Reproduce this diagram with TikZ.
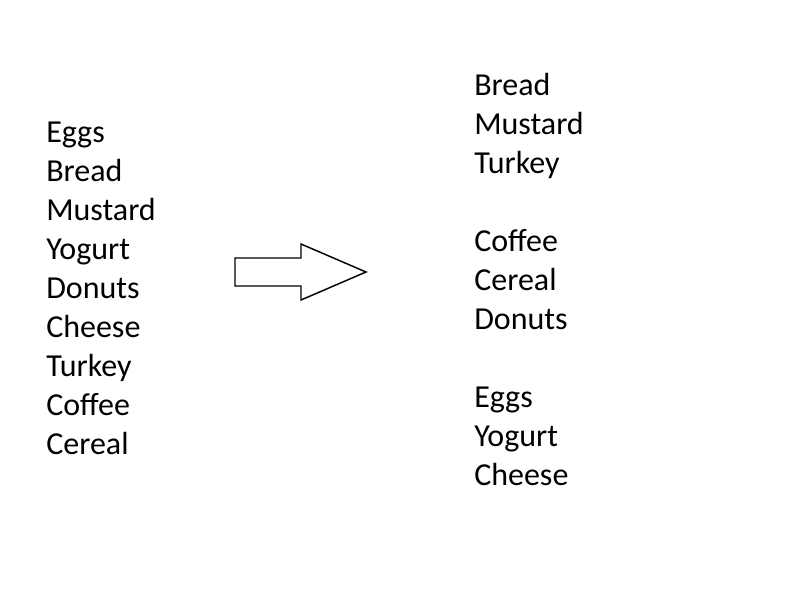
\documentclass[tikz,border=0pt]{standalone}
\usepackage{fontspec}
\setmainfont{Carlito}
\begin{document}
\begin{tikzpicture}[x=0.75pt,y=-0.75pt,
  item/.style={anchor=base west,inner sep=0pt,font=\fontsize{24}{29.25}\selectfont},
  bigarrow/.style={draw=black,line width=1.1pt,fill=white,line join=miter}]
\useasboundingbox[fill=white] (0,0) rectangle (800,600);
\foreach \t [count=\i] in {Eggs,Bread,Mustard,Yogurt,Donuts,Cheese,Turkey,Coffee,Cereal}
  \node[item] (l\i) at (46,{142+39*(\i-1)}) {\t};
\foreach \t/\k in {Bread/0,Mustard/1,Turkey/2,Coffee/4,Cereal/5,Donuts/6,Eggs/8,Yogurt/9,Cheese/10}
  \node[item] (r\k) at (474,{95+39*\k}) {\t};
\draw[bigarrow] (235,258) -- (301,258) -- (301,244) -- (366,272) -- (301,300) -- (301,286) -- (235,286) -- cycle;
\end{tikzpicture}
\end{document}
